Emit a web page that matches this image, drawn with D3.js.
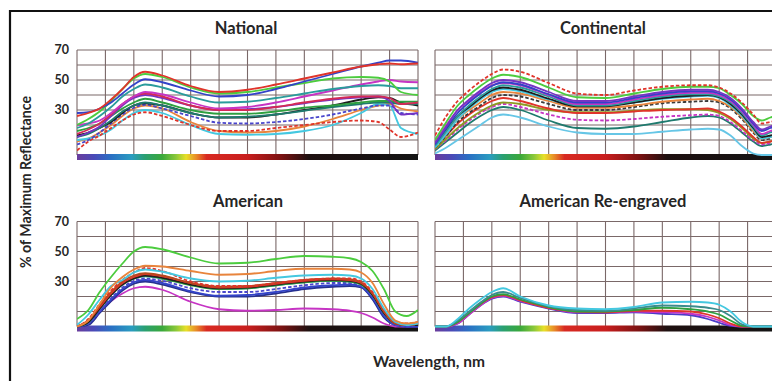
<!DOCTYPE html>
<html><head><meta charset="utf-8">
<script src="https://cdn.jsdelivr.net/npm/d3@7/dist/d3.min.js"></script>
<style>
body{margin:0;background:#fff}
svg{display:block}
text{font-family:Lato,"Open Sans",sans-serif;font-weight:700;fill:#262626}
</style>
</head><body>
<svg id="c" width="772" height="381"></svg>
<script>
// ---------- DATA ----------
const panelTitles = ["National", "Continental", "American", "American Re-engraved"];
const yTickLabels = [30, 50, 70];
const yGridValues = [10, 20, 30, 40, 50, 60, 70];
const xGridValues = [400, 450, 500, 550, 600, 650, 700, 750, 800, 850, 900, 950, 1000];

const natWl = [400,420,440,460,480,500,520,550,600,650,700,750,800,850,900,930,950,970,1000];
const natRed      = [26,28,31,37,44,52,55.5,53,46,42,43.5,47,51,55,59,60.5,61,60.5,61];
const natBlue     = [28,28.5,31,35,41,47,50.5,48.5,43,39,40,44,49,54,59,61.5,63,63,61.5];
const natLime     = [20,24,29,36,44,51,54,52,45,41,42,45,48,51,52,51.5,49,42,40];
const natTeal     = [18,21,26,32,39,44,47,45,39,35,35.5,38,41,44,46,46.5,46,44.5,44.5];
const natMagenta  = [20,21,23,28,34,39,42,40.5,35,31,32,35,39,43,47,49,50,49,48.5];
const natCrimson  = [14,17,21,27,34,39,41,39,33,30,30,32,35,37.5,39,39,38,34,35];
const natPurple   = [12,15,19,26,33,38,40,38,33,30,30.5,32,34.5,37,38.5,39,36,27,28];
const natGreen    = [16,18,21,26,31,35,37.5,35,30,27.5,27.5,29,31.5,33,35,36,36,35.5,35.5];
const natDkTeal   = [12,14,18,23,29,33,35,33,28,25,25.5,27,29.5,32,34,35,35,34,34];
const natBlack    = [13,15,18,22,28,33,34.5,33,28,25,25,27,30,33,37,38.5,38,35,33];
const natPurpleDs = [7,10,15,21,27,31.5,33.5,31,26,21.5,21,22,24,27,31,33,33,28,27];
const natOrange   = [9,11,15,20,26,31,33,31,22,16,15,16,19,24,30,33,34,31,29];
const natCyan     = [10,11,13,17,23,28,30,28,20,14,13.5,14,16,20,28,34,33,18,14];
const natRedDs    = [3,9,13,18,23,27,28.5,26,20,16,16,18,20,22,23,22,17,12,15];

const contWl = [400,420,440,460,480,500,520,550,600,650,700,750,800,850,880,900,920,940,960,975,990,1000];
const contRedDs     = [13,26,36,43,49,54,57,55.5,48,41,40,43,45.5,46.5,46.5,45,41,35,27,21,22,23];
const contLime      = [10,22,33,40,46,51,53.5,52,45,38.5,38,41,44,45.5,45.5,44.5,40,34,26,23,25,26];
const contPurple    = [8,19,30,37,43,48,50,48.5,42,36,36,39,42,43.5,43.5,42,38,31,22,17,19,20];
const contBlue      = [7,18,28,35,41,46,48.5,47,40.5,35,35,38,41,42.5,42.5,41,37,30,21,16,18,19];
const contMagenta   = [9,20,30,36,42,46.5,48,46.5,40,34,34,37,40,41.5,41.5,40,36,29,20,14,16,17];
const contTeal      = [6,16,26,33,39,44,46.5,45,39,33,33,36,39,40.5,40.5,39,35,28,19,13,15,16];
const contBlack     = [7,17,26,32,38,43,45,43.5,37.5,32.5,32.5,35,38,39.5,40,38.5,34,27,18,12,13,14];
const contCyan      = [5,14,24,31,37,42,44,42.5,37,33,33,35,37.5,39,39.5,38,33,26,17,11,12,13];
const contOrange    = [6,15,24,30,35,40,42,41,36,31.5,31.5,33,35.5,37,37.5,36,32,25,16,11,12,13];
const contBlackDs   = [5,13,22,28,33,38,40,39,34,30,30,32,34.5,35.5,36,35,31,24,15,10,11,12];
const contRed       = [6,13,21,27,32,36,38,36,31,28,28,29,30,30.5,31,29,25,19,12,8,9,10];
const contOlive     = [4,11,18,24,29,33,35,34,30,28.5,28.5,29.5,30.5,30.5,30,28,24,18,11,8,9,10];
const contMagentaDs = [4,10,17,23,28,32,34,32,27,23.5,23,24,25.5,26.5,27,26,22,16,10,7,8,9];
const contDkTeal    = [3,9,15,21,26,30,32,30,23,18,17.5,19,22,25,26,25,21,15,9,6,7,8];
const contLightBlue = [1,5,10,15,20,25,27,25,19,15,14,14,15.5,17,17.5,17,13,6,1,0,0,0];

const amWl = [400,420,440,460,480,500,520,550,600,650,700,750,800,850,880,900,920,940,960,980,1000];
const amLime     = [5,11,23,33,42,50,53,51.5,46,42,42.5,45,47,46.5,45.5,43,37,25,10,7,11];
const amOrange   = [0,4,15,26,33,38,40.5,40,37,34.5,35,37,38.5,38.5,38,36,29,15,4,2,3];
const amCyan     = [1,8,18,27,31,36,38,36.5,32,30,30.5,32.5,34,34.5,34,32,25,12,3,1,2];
const amRedDs    = [0,5,15,24,31,36,39,37,30,27,27,29,31,32,32,30,23,11,3,2,3];
const amBrown    = [0,4,14,23,30,34,35.5,34,29,26.5,27,29,31,32,31.5,29.5,22,10,2,1,2];
const amRed      = [0,4,13,22,29,33,35,33.5,29,26,26.5,28.5,30.5,31.5,31,29,22,10,2,1,2];
const amBlack    = [0,3,12,21,28,32,34,32.5,28,25.5,26,28,30,31,30.5,28.5,21,9,2,1,1];
const amGreen    = [0,3,12,21,28,32,34,32,27.5,25,25.5,27.5,29.5,30.5,30,28,21,9,2,1,1];
const amTeal     = [0,3,12,21,28,32,33.5,32,28,25,25.5,27.5,29.5,30.5,30,28,21,9,2,1,1];
const amPurpleDs = [0,2,10,19,26,30.5,32,30.5,25.5,23,23,25,27.5,29,29,27,20,8,1,0,1];
const amBlue     = [0,2,10,18,25,29.5,31,29,23.5,20.5,21,23,26,27.5,28,26.5,19,7,1,0,0];
const amNavy     = [0,1,9,17,24,28.5,30,28,23,20,20,22,25,26.5,27,26,18,6,1,0,0];
const amMagenta  = [0,2,10,17,22,25.5,26.5,24.5,16.5,11.5,10.5,11,12,11.5,10.5,9,6,2,0,0,0];

const reWl = [400,420,440,460,480,500,520,550,600,650,700,750,800,850,880,900,920,940,960,1000];
const reCyan    = [0,0,5,12,18,23,25.5,20,14,12,11.5,13,16,16.5,16,14.5,10,3,0,0];
const reTeal    = [0,0,4,10,16,21,23,19,13.5,11,10.5,12,14,13.5,12.5,11,7,1.5,0,0];
const reGreen   = [0,0,3,9,15,20,21.5,18,13,10,10,11,12.5,11.5,10,8,4,0.5,0,0];
const reRed     = [0,0,3,9,15,19.5,21,17.5,12.5,10,9.5,10.5,10.5,10,8,5.5,2,0,0,0];
const reMagenta = [0,0,2,8,14,19,20.5,17,12.5,9.5,9.5,10,9.5,8.5,6.5,4,1,0,0,0];
const reBlue    = [0,0,2,8,14,18.5,20,16.5,12,9,9,9.5,8.5,7.5,5,2.5,0.5,0,0,0];

// ---------- STYLES (kept apart from the data) ----------
const C = {red:"#e0342a", blue:"#3343c8", lime:"#4ccc3e", teal:"#2a9c9c", magenta:"#c634c4",
  crimson:"#d42a56", purple:"#7434c4", green:"#2ea040", dkteal:"#1f7a6e", black:"#1e1e1e",
  orange:"#e8843c", cyan:"#44c8e0", olive:"#8e9a22", brown:"#b8481e", navy:"#26308e", lightblue:"#66c6e6"};

const panelSeries = [
  {wl: natWl, lines: [
    [natOrange,C.orange,0],[natCyan,C.cyan,0],[natRedDs,C.red,1],[natPurpleDs,"#4a46cc",1],
    [natBlack,C.black,0],[natDkTeal,C.dkteal,0],[natGreen,C.green,0],[natPurple,C.purple,0],
    [natCrimson,C.crimson,0],[natMagenta,C.magenta,0],[natTeal,C.teal,0],[natLime,C.lime,0],
    [natBlue,C.blue,0],[natRed,C.red,0]]},
  {wl: contWl, lines: [
    [contLightBlue,C.lightblue,0],[contDkTeal,C.dkteal,0],[contMagentaDs,C.magenta,1],[contOlive,C.olive,0],
    [contRed,C.red,0],[contBlackDs,"#3a3a3a",1],[contOrange,C.orange,0],[contCyan,C.cyan,0],
    [contBlack,C.black,0],[contTeal,C.teal,0],[contMagenta,C.magenta,0],[contBlue,C.blue,0],
    [contPurple,C.purple,0],[contLime,C.lime,0],[contRedDs,C.red,1]]},
  {wl: amWl, lines: [
    [amMagenta,C.magenta,0],[amNavy,C.navy,0],[amBlue,C.blue,0],[amPurpleDs,"#4a46cc",1],
    [amTeal,C.teal,0],[amGreen,C.green,0],[amBlack,C.black,0],[amRed,C.red,0],[amBrown,C.brown,0],
    [amRedDs,C.red,1],[amCyan,C.cyan,0],[amOrange,C.orange,0],[amLime,C.lime,0]]},
  {wl: reWl, lines: [
    [reBlue,"#4a3cc8",0],[reMagenta,C.magenta,0],[reRed,C.red,0],[reGreen,C.green,0],
    [reTeal,"#3a8c8c",0],[reCyan,C.cyan,0]]}
];

const layout = [
  {left:77, top:50, bottom:155, titleX:246, titleY:34, labels:true},
  {left:435, top:50, bottom:155, titleX:603, titleY:34, labels:false},
  {left:77, top:221.5, bottom:326.5, titleX:248, titleY:207, labels:true},
  {left:435, top:221.5, bottom:326.5, titleX:603, titleY:207, labels:false}
];
const plotW = 341;

const svg = d3.select("#c");
svg.append("rect").attr("width",772).attr("height",381).attr("fill","#fff");

const defs = svg.append("defs");
const grad = defs.append("linearGradient").attr("id","spec");
[[0,"#6a3c9c"],[0.05,"#4a4ab8"],[0.1,"#2a70c4"],[0.16,"#2a9cc0"],[0.2,"#2aa070"],[0.25,"#3aa83a"],
 [0.29,"#8ac83a"],[0.32,"#e8e028"],[0.35,"#e88a28"],[0.38,"#d82a22"],[0.5,"#c81e1e"],[0.6,"#7a1212"],
 [0.68,"#1e1010"],[1,"#141414"]].forEach(s=>grad.append("stop").attr("offset",s[0]).attr("stop-color",s[1]));

layout.forEach((L,i)=>{
  const x = d3.scaleLinear().domain([400,1000]).range([L.left, L.left+plotW]);
  const y = d3.scaleLinear().domain([0,70]).range([L.bottom, L.top]);
  const g = svg.append("g");
  defs.append("clipPath").attr("id","clip"+i).append("rect")
    .attr("x",L.left).attr("y",L.top-3).attr("width",plotW).attr("height",L.bottom-L.top+8);

  g.selectAll(".hg").data(yGridValues).join("line")
    .attr("x1",L.left).attr("x2",L.left+plotW).attr("y1",d=>y(d)).attr("y2",d=>y(d))
    .attr("stroke","#7a6868").attr("stroke-width",1.1);
  g.selectAll(".vg").data(xGridValues).join("line")
    .attr("x1",d=>x(d)).attr("x2",d=>x(d)).attr("y1",y(70)).attr("y2",y(0))
    .attr("stroke","#7a6868").attr("stroke-width",1.1);

  g.append("rect").attr("x",L.left).attr("y",y(0)-1).attr("width",plotW).attr("height",6)
    .attr("fill","url(#spec)");

  const P = panelSeries[i];
  const line = d3.line().x((d,k)=>x(P.wl[k])).y(d=>y(d)).curve(d3.curveMonotoneX);
  const lg = g.append("g").attr("clip-path","url(#clip"+i+")");
  P.lines.forEach(s=>{
    lg.append("path").attr("d",line(s[0])).attr("fill","none")
      .attr("stroke",s[1]).attr("stroke-width",1.8)
      .attr("stroke-dasharray",s[2]?"3.5,2":null)
      .attr("stroke-linejoin","round");
  });

  svg.append("text").attr("x",L.titleX).attr("y",L.titleY).attr("text-anchor","middle")
    .attr("font-size",16.5).text(panelTitles[i]);

  if (L.labels) {
    svg.selectAll(null).data(yTickLabels).join("text")
      .attr("x",L.left-8).attr("y",d=>y(d)).attr("dy","0.35em").attr("text-anchor","end")
      .attr("font-size",12.5).attr("fill","#333").text(d=>d);
  }
});

svg.append("text").attr("transform","translate(31,182) rotate(-90)").attr("text-anchor","middle")
  .attr("font-size",14.2).text("% of Maximum Reflectance");
svg.append("text").attr("x",429).attr("y",367).attr("text-anchor","middle")
  .attr("font-size",15.5).text("Wavelength, nm");

svg.append("path").attr("d","M10,381V11H772").attr("fill","none").attr("stroke","#111").attr("stroke-width",2.2);
</script>
</body></html>
